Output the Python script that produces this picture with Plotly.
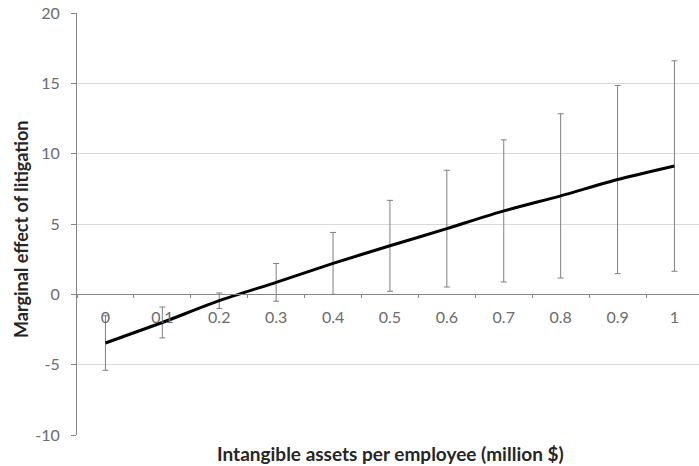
import plotly.graph_objects as go

# Intangible assets per employee (million $) and the estimated marginal effect
x_labels = ["0", "0.1", "0.2", "0.3", "0.4", "0.5", "0.6", "0.7", "0.8", "0.9", "1"]
effect = [-3.46, -2.00, -0.45, 0.85, 2.20, 3.45, 4.67, 5.93, 7.00, 8.16, 9.12]
ci_half = [1.94, 1.10, 0.55, 1.34, 2.20, 3.23, 4.15, 5.05, 5.84, 6.69, 7.48]

y_ticks = [-10, -5, 0, 5, 10, 15, 20]
y_tick_text = ["-10", "-5", "0", "5", "10", "15", "20"]

W, H = 699, 466
L, R, T, B = 77, 0, 13, 31
plot_w = W - L - R
cat_w = 56.9
x_right = -0.5 + plot_w / cat_w

font_family = "Lato, 'Open Sans', Arial, sans-serif"
tick_color = "#6b6b6b"
axis_color = "#868686"
grid_color = "#d9d9d9"
title_color = "#262626"

fig = go.Figure()
fig.add_trace(go.Scatter(
    x=x_labels,
    y=effect,
    mode="lines",
    line=dict(color="#000000", width=3, shape="spline", smoothing=0.6),
    error_y=dict(
        type="data",
        array=ci_half,
        symmetric=True,
        color="#7f7f7f",
        thickness=1,
        width=3,
    ),
    showlegend=False,
))

fig.update_layout(
    width=W,
    height=H,
    margin=dict(l=L, r=R, t=T, b=B, pad=0),
    paper_bgcolor="white",
    plot_bgcolor="white",
    font=dict(family=font_family, size=16, color=tick_color),
    xaxis=dict(
        type="category",
        range=[-0.5, x_right],
        anchor="free",
        position=10 / 30,
        showline=True,
        linecolor=axis_color,
        linewidth=1,
        showgrid=False,
        zeroline=False,
        tickson="boundaries",
        ticks="outside",
        ticklen=3,
        tickcolor=axis_color,
        ticklabelstandoff=8,
        tickfont=dict(size=16, color=tick_color),
    ),
    yaxis=dict(
        range=[-10, 20],
        tickvals=y_ticks,
        ticktext=y_tick_text,
        showline=True,
        linecolor=axis_color,
        linewidth=1,
        showgrid=True,
        gridcolor=grid_color,
        gridwidth=1,
        zeroline=False,
        ticks="outside",
        ticklen=5,
        tickcolor=axis_color,
        ticklabelstandoff=8,
        tickfont=dict(size=16, color=tick_color),
    ),
    annotations=[
        dict(
            text="<b>Marginal effect of litigation</b>",
            xref="paper", yref="paper",
            x=(21 - L) / plot_w, y=(H - B - 230) / (H - T - B),
            xanchor="center", yanchor="middle",
            textangle=-90,
            showarrow=False,
            font=dict(family=font_family, size=18, color=title_color),
        ),
        dict(
            text="<b>Intangible assets per employee (million $)</b>",
            xref="paper", yref="paper",
            x=(391 - L) / plot_w, y=-(453 - (H - B)) / (H - T - B),
            xanchor="center", yanchor="middle",
            showarrow=False,
            font=dict(family=font_family, size=19, color=title_color),
        ),
    ],
)

fig.write_html("out.html")
